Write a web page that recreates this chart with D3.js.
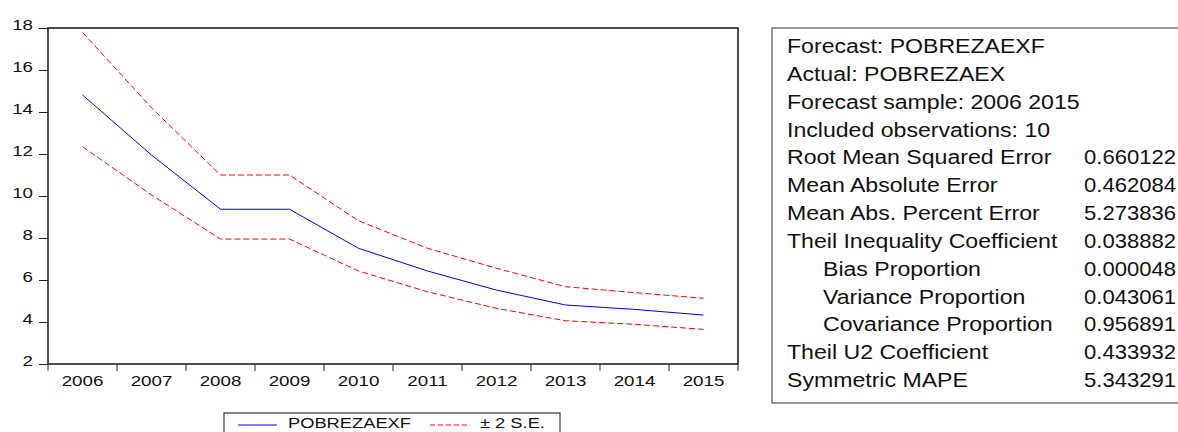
<!DOCTYPE html>
<html>
<head>
<meta charset="utf-8">
<script src="https://cdn.jsdelivr.net/npm/d3@7"></script>
<style>
  html, body { margin: 0; padding: 0; background: #fff; }
  svg { display: block; font-family: "Liberation Sans", Arial, sans-serif; }
</style>
</head>
<body>
<svg id="chart" width="1178" height="432"></svg>
<script>
// data
const years    = ['2006', '2007', '2008', '2009', '2010', '2011', '2012', '2013', '2014', '2015'];
const forecast = [14.81, 11.95, 9.37, 9.37, 7.51, 6.43, 5.52, 4.81, 4.60, 4.33];
const upper    = [17.79, 14.20, 11.00, 11.00, 8.82, 7.51, 6.56, 5.68, 5.40, 5.13];
const lower    = [12.35, 10.05, 7.95, 7.95, 6.43, 5.44, 4.65, 4.06, 3.89, 3.65];
const yTicks   = [2, 4, 6, 8, 10, 12, 14, 16, 18];

const legendLabels = ['POBREZAEXF', '\u00b1 2 S.E.'];

const statLabels = [
    'Forecast: POBREZAEXF', 'Actual: POBREZAEX', 'Forecast sample: 2006 2015',
    'Included observations: 10', 'Root Mean Squared Error', 'Mean Absolute Error',
    'Mean Abs. Percent Error', 'Theil Inequality Coefficient', 'Bias Proportion',
    'Variance Proportion', 'Covariance Proportion', 'Theil U2 Coefficient', 'Symmetric MAPE'
];
const statValues = ['', '', '', '', '0.660122', '0.462084', '5.273836', '0.038882',
    '0.000048', '0.043061', '0.956891', '0.433932', '5.343291'];
const statIndent = [0, 0, 0, 0, 0, 0, 0, 0, 1, 1, 1, 0, 0];

const plot = { left: 48, top: 28, right: 738, bottom: 364 };
const sx = 1.25; // the source picture is stretched sideways

const svg = d3.select('#chart');

const x = d3.scaleBand().domain(years).range([plot.left, plot.right]).padding(0);
const y = d3.scaleLinear().domain([2, 18]).range([plot.bottom, plot.top]);
const bw = x.bandwidth();
const cx = (d, i) => x(years[i]) + bw / 2;

// y axis
const yAxis = svg.append('g')
    .attr('transform', `translate(${plot.left},0)`)
    .call(d3.axisLeft(y).tickValues(yTicks).tickSize(9).tickFormat(d3.format('d')));
yAxis.select('.domain').remove();
yAxis.selectAll('.tick line').attr('stroke', '#222');
yAxis.selectAll('text')
    .attr('font-size', 15).attr('fill', '#111')
    .attr('font-family', '"Liberation Sans", Arial, sans-serif')
    .attr('x', -15 / sx).attr('dy', '0.08em')
    .attr('transform', `scale(${sx},1)`);

// x axis: labels in band centres, ticks at band edges
const xAxis = svg.append('g')
    .attr('transform', `translate(0,${plot.bottom})`)
    .call(d3.axisBottom(x).tickSize(7).tickPadding(5));
xAxis.select('.domain').remove();
xAxis.selectAll('.tick line')
    .attr('stroke', '#222')
    .attr('transform', `translate(${-bw / 2},0)`);
xAxis.append('line')
    .attr('x1', plot.right).attr('x2', plot.right)
    .attr('y1', 0).attr('y2', 7).attr('stroke', '#222');
xAxis.selectAll('text')
    .attr('font-size', 15).attr('fill', '#111')
    .attr('font-family', '"Liberation Sans", Arial, sans-serif')
    .attr('dy', '0.68em')
    .attr('transform', `scale(${sx},1)`);

// frame
svg.append('rect')
    .attr('x', plot.left).attr('y', plot.top)
    .attr('width', plot.right - plot.left).attr('height', plot.bottom - plot.top)
    .attr('fill', 'none').attr('stroke', '#222').attr('stroke-width', 1.6);

const line = vals => d3.line().x(cx).y(d => y(d))(vals);

svg.append('path').attr('d', line(upper))
    .attr('fill', 'none').attr('stroke', '#ff0000').attr('stroke-width', 1)
    .attr('stroke-dasharray', '6,3');
svg.append('path').attr('d', line(lower))
    .attr('fill', 'none').attr('stroke', '#ff0000').attr('stroke-width', 1)
    .attr('stroke-dasharray', '6,3');
svg.append('path').attr('d', line(forecast))
    .attr('fill', 'none').attr('stroke', '#0000ff').attr('stroke-width', 1);

// legend
const lg = svg.append('g').attr('transform', 'translate(224,413)');
lg.append('rect').attr('width', 336).attr('height', 30)
    .attr('fill', '#fff').attr('stroke', '#333').attr('stroke-width', 1.2);
lg.append('line').attr('x1', 14).attr('x2', 53).attr('y1', 12).attr('y2', 12)
    .attr('stroke', '#0000ff').attr('stroke-width', 1);
lg.append('text').text(legendLabels[0])
    .attr('font-size', 15).attr('fill', '#111')
    .attr('transform', 'translate(64,15) scale(1.22,1)');
lg.append('line').attr('x1', 206).attr('x2', 244).attr('y1', 12).attr('y2', 12)
    .attr('stroke', '#ff0000').attr('stroke-width', 1).attr('stroke-dasharray', '5,3');
lg.append('text').text(legendLabels[1])
    .attr('font-size', 15).attr('fill', '#111')
    .attr('transform', 'translate(256,15) scale(1.22,1)');

// statistics box
const sb = svg.append('g');
sb.append('rect').attr('x', 772).attr('y', 28).attr('width', 420).attr('height', 375)
    .attr('fill', '#fff').attr('stroke', '#555').attr('stroke-width', 1.2);
const rowY = d3.scaleLinear().domain([0, statLabels.length - 1]).range([53, 387]);
sb.selectAll('text.lab').data(statLabels).enter().append('text')
    .attr('class', 'lab')
    .attr('font-size', 21).attr('fill', '#111')
    .attr('transform', (d, i) => `translate(${statIndent[i] ? 823 : 787},${rowY(i)}) scale(1.1,1)`)
    .text(d => d);
sb.selectAll('text.val').data(statValues).enter().append('text')
    .attr('class', 'val')
    .attr('font-size', 21).attr('fill', '#111')
    .attr('transform', (d, i) => `translate(1084,${rowY(i)}) scale(1.05,1)`)
    .text(d => d);
</script>
</body>
</html>
